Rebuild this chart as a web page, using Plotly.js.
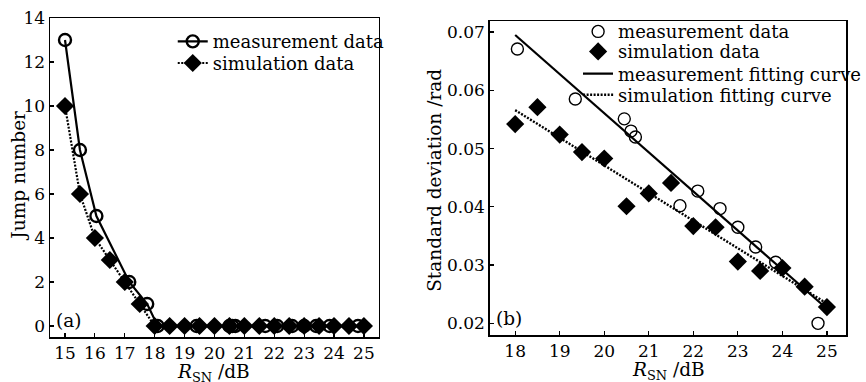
<!DOCTYPE html>
<html>
<head>
<meta charset="utf-8">
<script src="https://cdn.plot.ly/plotly-3.0.1.min.js"></script>
<style>html,body{margin:0;padding:0;background:#fff;}#chart{width:866px;height:382px;}</style>
</head>
<body>
<div id="chart"></div>
<script>
// Panel (a): jump number vs R_SN
const aMeasX = [15, 15.5, 16.05, 17.15, 17.75, 18.1, 19.4, 20.5, 20.6, 20.7, 21.7, 22.1, 22.6, 23.0, 23.4, 23.85, 24.8];
const aMeasY = [13, 8, 5, 2, 1, 0, 0, 0, 0, 0, 0, 0, 0, 0, 0, 0, 0];
const aSimX = [15, 15.5, 16, 16.5, 17, 17.5, 18, 18.5, 19, 19.5, 20, 20.5, 21, 21.5, 22, 22.5, 23, 23.5, 24, 24.5, 25];
const aSimY = [10, 6, 4, 3, 2, 1, 0, 0, 0, 0, 0, 0, 0, 0, 0, 0, 0, 0, 0, 0, 0];

// Panel (b): standard deviation vs R_SN
const bMeasX = [18.05, 19.35, 20.45, 20.6, 20.7, 21.7, 22.1, 22.6, 23.0, 23.4, 23.85, 24.8];
const bMeasY = [0.0671, 0.0585, 0.0551, 0.0530, 0.0520, 0.0402, 0.0427, 0.0397, 0.0365, 0.0331, 0.0305, 0.0200];
const bSimX = [18, 18.5, 19, 19.5, 20, 20.5, 21, 21.5, 22, 22.5, 23, 23.5, 24, 24.5, 25];
const bSimY = [0.0542, 0.0571, 0.0524, 0.0494, 0.0483, 0.0401, 0.0423, 0.0441, 0.0367, 0.0365, 0.0306, 0.0290, 0.0295, 0.0263, 0.0228];
const bMeasFitX = [18, 25];
const bMeasFitY = [0.0695, 0.0225];
const bSimFitX = [18, 25];
const bSimFitY = [0.0566, 0.0234];

// Text labels
const xTitle = '<i>R</i><sub>SN</sub> /dB';
const yTitleA = 'Jump number';
const yTitleB = 'Standard deviation /rad';

const FONT = "DejaVu Serif, Liberation Serif, serif";

const traces = [
  {x: aMeasX, y: aMeasY, xaxis: 'x', yaxis: 'y', name: 'measurement data', legend: 'legend',
   mode: 'lines+markers', line: {color: '#000', width: 2.2},
   marker: {symbol: 'circle-open', size: 12, color: '#000', line: {width: 2.4, color: '#000'}}},
  {x: aSimX, y: aSimY, xaxis: 'x', yaxis: 'y', name: 'simulation data', legend: 'legend2',
   mode: 'lines+markers', line: {color: '#000', width: 2.2, dash: '2px,1.5px'},
   marker: {symbol: 'diamond', size: 14, color: '#000'}},
  {x: bMeasX, y: bMeasY, xaxis: 'x2', yaxis: 'y2', name: 'measurement data', legend: 'legend3',
   mode: 'markers', marker: {symbol: 'circle-open', size: 12, color: '#000', line: {width: 1.4, color: '#000'}}},
  {x: bSimX, y: bSimY, xaxis: 'x2', yaxis: 'y2', name: 'simulation data', legend: 'legend4',
   mode: 'markers', marker: {symbol: 'diamond', size: 14, color: '#000'}},
  {x: bMeasFitX, y: bMeasFitY, xaxis: 'x2', yaxis: 'y2', name: 'measurement fitting curve', legend: 'legend5',
   mode: 'lines', line: {color: '#000', width: 2.2}},
  {x: bSimFitX, y: bSimFitY, xaxis: 'x2', yaxis: 'y2', name: 'simulation fitting curve', legend: 'legend6',
   mode: 'lines', line: {color: '#000', width: 2.4, dash: '2px,1.5px'}}
];

const axCommon = {
  showline: true, mirror: true, linecolor: '#000', linewidth: 1.5,
  ticks: 'inside', ticklen: 4, tickwidth: 1.2, tickcolor: '#000',
  showgrid: false, zeroline: false,
  tickfont: {family: FONT, size: 17, color: '#000'}
};
const titleFont = {family: FONT, size: 18.5, color: '#000'};

function leg(xpx, ypx) {
  return {
    x: xpx/866, y: 1 - ypx/382, xanchor: 'left', yanchor: 'middle',
    bgcolor: 'rgba(0,0,0,0)', borderwidth: 0, itemwidth: 30,
    font: {family: FONT, size: 18, color: '#000'}
  };
}

function ann(text, xpx, ypx, angle) {
  return {xref: 'paper', yref: 'paper', x: xpx/866, y: 1 - ypx/382, xanchor: 'center', yanchor: 'middle',
          text: text, showarrow: false, textangle: angle || 0, font: titleFont};
}

const layout = {
  width: 866, height: 382,
  margin: {l: 0, r: 0, t: 0, b: 0},
  paper_bgcolor: '#fff', plot_bgcolor: '#fff',
  font: {family: FONT, color: '#000'},
  showlegend: true,
  xaxis: Object.assign({}, axCommon, {
    domain: [51/866, 386/866], range: [14.5, 25.5], dtick: 1, tick0: 15
  }),
  yaxis: Object.assign({}, axCommon, {
    domain: [45/382, 364/382], range: [-0.5, 14], dtick: 2, tick0: 0
  }),
  xaxis2: Object.assign({}, axCommon, {
    anchor: 'y2',
    domain: [499/866, 862/866], range: [17.43, 25.43], dtick: 1, tick0: 18
  }),
  yaxis2: Object.assign({}, axCommon, {
    anchor: 'x2',
    domain: [47/382, 361/382], range: [0.018, 0.0719], dtick: 0.01, tick0: 0.02, tickformat: '.2f'
  }),
  legend: leg(176, 41.7),
  legend2: leg(176, 63.3),
  legend3: leg(589, 31.7),
  legend4: leg(589, 51.7),
  legend5: leg(589, 74),
  legend6: leg(589, 95),
  annotations: [
    ann(xTitle, 218, 373),
    ann(xTitle, 681, 371),
    ann(yTitleA, 18, 176, -90),
    ann(yTitleB, 443, 180, -90),
    {xref: 'paper', yref: 'paper', x: 55/866, y: 1 - 320/382, xanchor: 'left', yanchor: 'middle',
     text: '(a)', showarrow: false, font: titleFont},
    {xref: 'paper', yref: 'paper', x: 503/866, y: 1 - 318/382, xanchor: 'left', yanchor: 'middle',
     text: '(b)', showarrow: false, font: titleFont}
  ]
};

Plotly.newPlot('chart', traces, layout, {displayModeBar: false, staticPlot: true});
</script>
</body>
</html>
